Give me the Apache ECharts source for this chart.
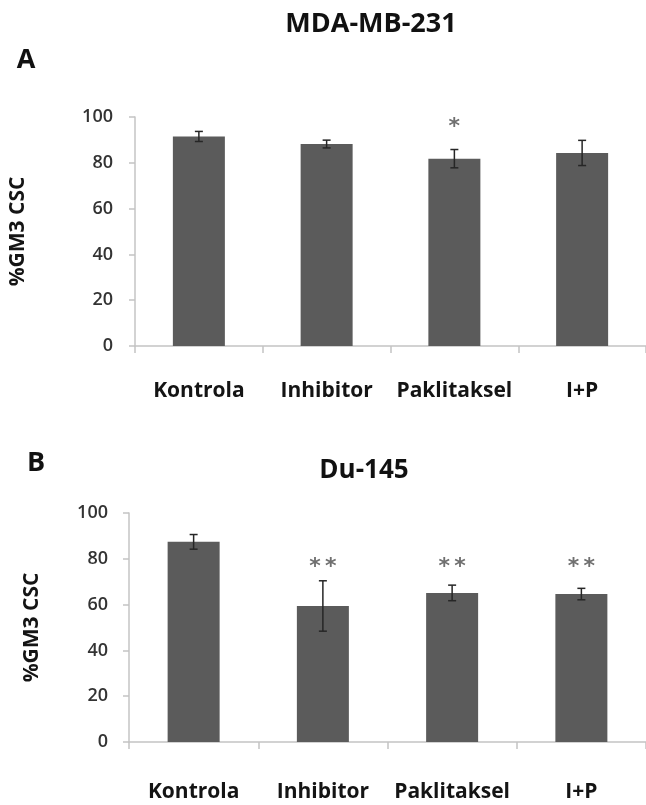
<!DOCTYPE html>
<html>
<head>
<meta charset="utf-8">
<script src="https://cdn.jsdelivr.net/npm/echarts@6/dist/echarts.min.js"></script>
<style>
  html, body { margin: 0; padding: 0; background: #fff; }
  #chart { width: 646px; height: 805px; }
</style>
</head>
<body>
<div id="chart"></div>
<script>
const categories = ['Kontrola', 'Inhibitor', 'Paklitaksel', 'I+P'];
const yTicks = [0, 20, 40, 60, 80, 100];

// panel A: MDA-MB-231
const valuesA = [91.5, 88.2, 81.8, 84.3];
const errorsA = [2.2, 1.7, 4.0, 5.5];
const starsA = ['', '', '*', ''];
const starLevelA = 97.7;

// panel B: Du-145
const valuesB = [87.4, 59.4, 65.1, 64.6];
const errorsB = [3.2, 11.0, 3.4, 2.5];
const starsB = ['', '**', '**', '**'];
const starLevelB = 78.6;

const chart = echarts.init(document.getElementById('chart'));

const font = 'Open Sans';
const axisGray = '#c4c4c4';
const barColor = '#5b5b5b';

function errorBars(params, api) {
  const x = api.value(0);
  const v = api.value(1);
  const e = api.value(2);
  const top = api.coord([x, v + e]);
  const bot = api.coord([x, v - e]);
  const hw = 4;
  const style = { stroke: '#262626', lineWidth: 1.5 };
  return {
    type: 'group',
    children: [
      { type: 'line', shape: { x1: top[0], y1: top[1], x2: bot[0], y2: bot[1] }, style },
      { type: 'line', shape: { x1: top[0] - hw, y1: top[1], x2: top[0] + hw, y2: top[1] }, style },
      { type: 'line', shape: { x1: bot[0] - hw, y1: bot[1], x2: bot[0] + hw, y2: bot[1] }, style },
    ],
  };
}

function starMarks(stars) {
  return function (params, api) {
    const s = stars[api.value(0)];
    const p = api.coord([api.value(0), api.value(1)]);
    const gap = 15.6;
    const children = [];
    for (let k = 0; k < s.length; k++) {
      children.push({
        type: 'text',
        x: p[0] + (k - (s.length - 1) / 2) * gap,
        y: p[1] + 5,
        style: {
          text: '*', fontFamily: 'DejaVu Sans', fontWeight: 'bold', fontSize: 22,
          fill: '#707070', align: 'center', verticalAlign: 'middle',
        },
      });
    }
    return { type: 'group', children };
  };
}

function xAxisFor(gridIndex, labelMargin) {
  return {
    type: 'category',
    gridIndex,
    data: categories,
    axisLine: { lineStyle: { color: axisGray, width: 1.5 } },
    axisTick: { show: true, length: 7, lineStyle: { color: axisGray, width: 1.5 } },
    axisLabel: {
      interval: 0, margin: labelMargin, color: '#141414', fontFamily: font,
      fontWeight: 'bold', fontSize: 21, lineHeight: 21,
    },
  };
}

function yAxisFor(gridIndex, nameGap, labelMargin) {
  return {
    type: 'value',
    gridIndex,
    min: yTicks[0],
    max: yTicks[yTicks.length - 1],
    interval: 20,
    name: '%GM3 CSC',
    nameLocation: 'middle',
    nameRotate: 90,
    nameGap,
    nameTextStyle: { fontFamily: font, fontWeight: 'bold', fontSize: 21, color: '#141414' },
    axisLine: { show: true, lineStyle: { color: axisGray, width: 1.5 } },
    axisTick: { show: true, length: 6, lineStyle: { color: axisGray, width: 1.5 } },
    axisLabel: { margin: labelMargin, color: '#333333', fontFamily: font, fontWeight: 600, fontSize: 18 },
    splitLine: { show: false },
  };
}

function starData(stars, level) {
  return stars.map((s, i) => (s ? [i, level] : null)).filter(Boolean);
}

const option = {
  animation: false,
  backgroundColor: '#ffffff',
  grid: [
    { left: 130, top: 117, width: 527, height: 229 },
    { left: 129, top: 513, width: 527, height: 229 },
  ],
  xAxis: [xAxisFor(0, 35), xAxisFor(1, 40)],
  yAxis: [yAxisFor(0, 106, 22), yAxisFor(1, 86, 21)],
  graphic: [
    { type: 'text', x: 371, y: 24, style: { text: 'MDA-MB-231', fontFamily: font, fontWeight: 'bold', fontSize: 27, fill: '#111', align: 'center', verticalAlign: 'middle' } },
    { type: 'text', x: 26, y: 60, style: { text: 'A', fontFamily: font, fontWeight: 'bold', fontSize: 27, fill: '#111', align: 'center', verticalAlign: 'middle' } },
    { type: 'text', x: 364, y: 471, style: { text: 'Du-145', fontFamily: font, fontWeight: 'bold', fontSize: 26, fill: '#111', align: 'center', verticalAlign: 'middle' } },
    { type: 'text', x: 36, y: 463, style: { text: 'B', fontFamily: font, fontWeight: 'bold', fontSize: 27, fill: '#111', align: 'center', verticalAlign: 'middle' } },
  ],
  series: [
    {
      type: 'bar', xAxisIndex: 0, yAxisIndex: 0, data: valuesA, barWidth: 52,
      itemStyle: { color: barColor },
    },
    {
      type: 'custom', xAxisIndex: 0, yAxisIndex: 0, z: 5,
      renderItem: errorBars,
      data: valuesA.map((v, i) => [i, v, errorsA[i]]),
    },
    {
      type: 'custom', xAxisIndex: 0, yAxisIndex: 0, z: 5,
      renderItem: starMarks(starsA),
      data: starData(starsA, starLevelA),
    },
    {
      type: 'bar', xAxisIndex: 1, yAxisIndex: 1, data: valuesB, barWidth: 52,
      itemStyle: { color: barColor },
    },
    {
      type: 'custom', xAxisIndex: 1, yAxisIndex: 1, z: 5,
      renderItem: errorBars,
      data: valuesB.map((v, i) => [i, v, errorsB[i]]),
    },
    {
      type: 'custom', xAxisIndex: 1, yAxisIndex: 1, z: 5,
      renderItem: starMarks(starsB),
      data: starData(starsB, starLevelB),
    },
  ],
};

chart.setOption(option);
</script>
</body>
</html>
